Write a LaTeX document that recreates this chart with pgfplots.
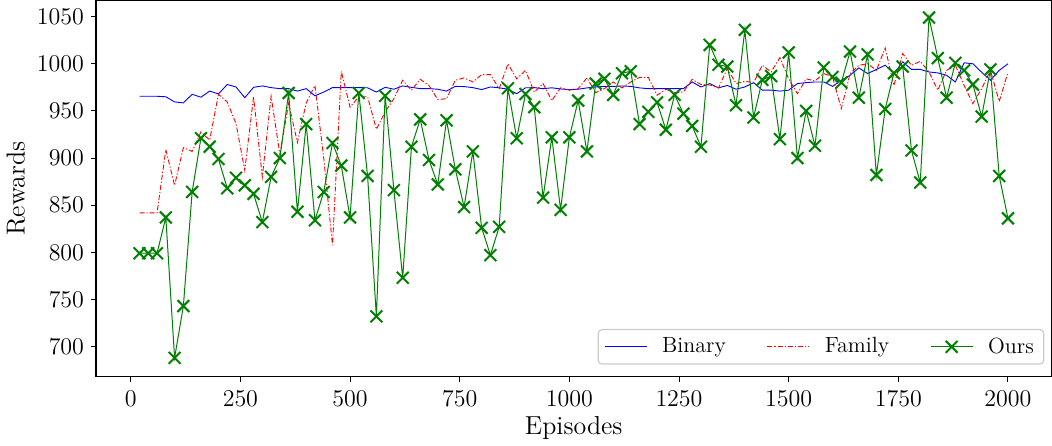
\documentclass[border=0pt]{standalone}
\usepackage{pgfplots}
\pgfplotsset{compat=1.18}
\definecolor{mplgreen}{HTML}{008000}
\begin{document}
\begin{tikzpicture}
\begin{axis}[
  scale only axis,
  width=477.5pt, height=188pt,
  xmin=-79, xmax=2099, ymin=668, ymax=1067,
  xtick={0,250,...,2000}, ytick={700,750,...,1050},
  /pgf/number format/1000 sep={},
  tick align=outside, tick pos=left,
  major tick length=2.5pt,
  axis line style={line width=0.6pt},
  every tick/.style={black, line width=0.5pt},
  tick label style={font=\fontsize{11.6}{13}\selectfont},
  xticklabel style={yshift=-1pt},
  label style={font=\fontsize{13}{15}\selectfont},
  xlabel={Episodes}, ylabel={Rewards},
  xlabel style={yshift=2pt},
  ylabel style={yshift=-1pt},
  legend columns=3,
  legend cell align=left,
  legend style={at={(0.9927,0.032)}, anchor=south east,
    font=\fontsize{11}{13}\selectfont,
    draw=black!20, rounded corners=2pt, line width=0.6pt,
    inner xsep=3pt, inner ysep=2pt,
    /tikz/every odd column/.append style={column sep=5.5pt},
    /tikz/every even column/.append style={column sep=18.5pt}},
  legend image code/.code={\draw[mark repeat=2,mark phase=2,#1] plot coordinates {(0pt,0pt)(10.5pt,0pt)(21pt,0pt)};},
]
\addplot[blue, line width=0.45pt, mark=none] coordinates {
(20,965.5)(40,965.5)(60,965.5)(80,965)(100,959.5)(120,958.5)(140,967.6)(160,964.5)(180,971)(200,968)
(220,978)(240,975.4)(260,964)(280,975)(300,976.5)(320,974.7)(340,973.6)(360,973.6)(380,971)(400,973.6)
(420,966)(440,970)(460,974.7)(480,974.7)(500,974.7)(520,974.7)(540,974.5)(560,970)(580,975)(600,973)
(620,976.5)(640,975)(660,973.6)(680,973.6)(700,973)(720,971)(740,976)(760,975.8)(780,974.7)(800,972.6)
(820,975.4)(840,974.5)(860,973)(880,968.3)(900,974.5)(920,974.7)(940,973.6)(960,974.5)(980,973.3)(1000,972.6)
(1020,973)(1040,974.4)(1060,975.4)(1080,976)(1100,976)(1120,976.4)(1140,976)(1160,974.4)(1180,973.6)(1200,973.6)
(1220,973.6)(1240,973.6)(1260,973.6)(1280,980.7)(1300,975.4)(1320,979)(1340,974.4)(1360,977)(1380,973)(1400,975.4)
(1420,980)(1440,972)(1460,972)(1480,971)(1500,972)(1520,979)(1540,980)(1560,980.7)(1580,980.7)(1600,976)
(1620,982.5)(1640,987.8)(1660,995.6)(1680,989.6)(1700,994)(1720,998.4)(1740,989.6)(1760,1002)(1780,994)(1800,994)
(1820,991.3)(1840,990.3)(1860,987.8)(1880,980.7)(1900,1001)(1920,1000)(1940,991)(1960,982.5)(1980,993)(2000,1000)
};
\addlegendentry{Binary}
\addplot[red, line width=0.45pt, mark=none, dash pattern=on 2.5pt off 1pt on 0.6pt off 1pt] coordinates {
(20,841.8)(40,841.8)(60,841.8)(80,909)(100,871)(120,911)(140,907)(160,927.7)(180,919)(200,967.6)
(220,959.5)(240,936.5)(260,887)(280,965)(300,880)(320,965.5)(340,904)(360,958)(380,916.5)(400,958.5)
(420,977)(440,900)(460,807.5)(480,992)(500,954)(520,965)(540,965)(560,930.5)(580,949)(600,963)
(620,982.5)(640,972)(660,983.5)(680,977)(700,962)(720,963)(740,982.5)(760,985)(780,980.7)(800,988.5)
(820,988.5)(840,973.6)(860,1000)(880,984)(900,993)(920,970)(940,979)(960,961)(980,974.4)(1000,972)
(1020,973.6)(1040,985)(1060,969.4)(1080,973.6)(1100,980.7)(1120,974.4)(1140,980.7)(1160,985.6)(1180,985.6)(1200,966.6)
(1220,973)(1240,969.4)(1260,970)(1280,983.4)(1300,978)(1320,977.5)(1340,974.4)(1360,995)(1380,979)(1400,981.4)
(1420,980)(1440,998.4)(1460,991.3)(1480,1006.5)(1500,984)(1520,968.3)(1540,984)(1560,981.8)(1580,989.6)(1600,986)
(1620,952.4)(1640,989.6)(1660,998.4)(1680,1000)(1700,993)(1720,1016.8)(1740,977)(1760,1010.8)(1780,998.4)(1800,1002.6)
(1820,991.3)(1840,972)(1860,993)(1880,998.4)(1900,977)(1920,957.7)(1940,973.6)(1960,993)(1980,960)(2000,991)
};
\addlegendentry{Family}
\addplot[mplgreen, line width=0.5pt, mark=x, mark size=4.2pt, mark options={line width=1pt}] coordinates {
(20,799)(40,799)(60,799)(80,837)(100,688)(120,743)(140,864)(160,921)(180,912)(200,899)
(220,868)(240,879)(260,871)(280,862)(300,832)(320,880)(340,900)(360,969)(380,843)(400,936)
(420,834)(440,864)(460,916)(480,892)(500,837)(520,969)(540,881)(560,732)(580,966)(600,866)
(620,773)(640,912)(660,941)(680,898)(700,872)(720,940)(740,888)(760,848)(780,907)(800,826)
(820,797)(840,827)(860,974)(880,921)(900,968)(920,954)(940,858)(960,922)(980,845)(1000,922)
(1020,961)(1040,907)(1060,979)(1080,984)(1100,967)(1120,990)(1140,992)(1160,936)(1180,949)(1200,959)
(1220,930)(1240,967)(1260,947)(1280,934)(1300,912)(1320,1020)(1340,999)(1360,997)(1380,956)(1400,1036)
(1420,943)(1440,983)(1460,987)(1480,920)(1500,1012)(1520,900)(1540,950)(1560,913)(1580,996)(1600,986)
(1620,980)(1640,1013)(1660,964)(1680,1010)(1700,882)(1720,952)(1740,990)(1760,997)(1780,908)(1800,874)
(1820,1049)(1840,1006)(1860,964)(1880,1001)(1900,993)(1920,978)(1940,944)(1960,994)(1980,881)(2000,836)
};
\addlegendentry{Ours}
\end{axis}
\end{tikzpicture}
\end{document}
